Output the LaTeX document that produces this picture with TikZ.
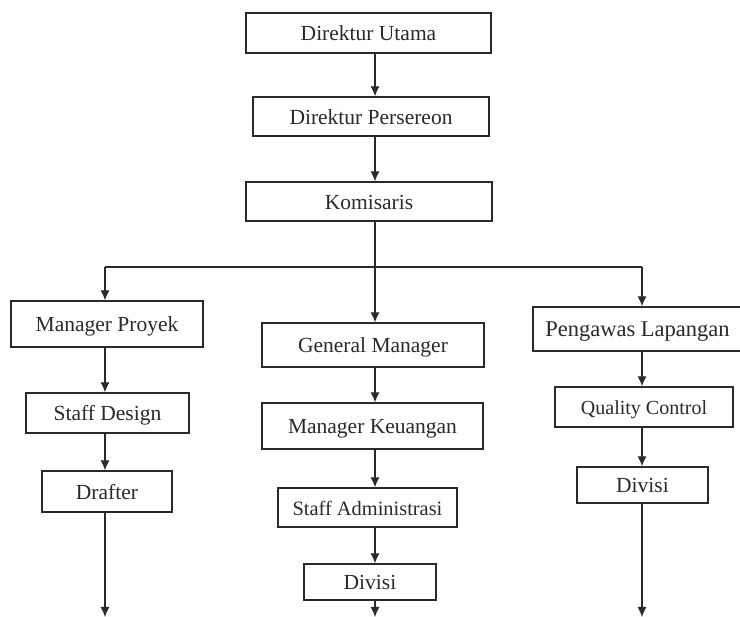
\documentclass[tikz,border=0pt]{standalone}
\usepackage{fontspec}
\setmainfont{Liberation Serif}
\usetikzlibrary{arrows.meta}
\definecolor{ink}{HTML}{2A2A2A}
\tikzset{
  box/.style={draw=ink, line width=1.3pt, fill=white, inner sep=0pt, text=ink,
    font=\fontsize{21.5}{24}\selectfont, text height=16pt, text depth=0pt, align=center},
  arr/.style={draw=ink, line width=1.1pt, -{Latex[length=10pt,width=9pt]}},
  ln/.style={draw=ink, line width=1.1pt}
}
\begin{document}
\begin{tikzpicture}[x=1pt,y=-1pt]
\useasboundingbox (0,0) rectangle (740,617);
% column lines
\coordinate (cL) at (105,0);
\coordinate (cM) at (375,0);
\coordinate (cR) at (642,0);
\coordinate (hy) at (0,267);
% top chain
\node[box, minimum width=245pt, minimum height=40pt] (du) at (368.5,33) {Direktur Utama};
\node[box, minimum width=236pt, minimum height=39pt] (dp) at (371,116.5) {Direktur Persereon};
\node[box, minimum width=246pt, minimum height=39pt] (ko) at (369,201.5) {Komisaris};
% left column
\node[box, minimum width=192pt, minimum height=46pt] (mp) at (107,324) {Manager Proyek};
\node[box, minimum width=163pt, minimum height=40pt] (sd) at (107.5,413) {Staff Design};
\node[box, minimum width=130pt, minimum height=41pt] (dr) at (107,491.5) {Drafter};
% middle column
\node[box, minimum width=222pt, minimum height=44pt] (gm) at (373,345) {General Manager};
\node[box, minimum width=221pt, minimum height=46pt] (mk) at (372.5,426) {Manager Keuangan};
\node[box, minimum width=179pt, minimum height=39pt, font=\fontsize{20.4}{24}\selectfont] (sa) at (367.5,507.5) {Staff Administrasi};
\node[box, minimum width=132pt, minimum height=36pt] (dv1) at (370,582) {Divisi};
% right column
\node[box, minimum width=209pt, minimum height=44pt, font=\fontsize{22.5}{24}\selectfont] (pl) at (637.5,329) {Pengawas Lapangan};
\node[box, minimum width=178pt, minimum height=40pt, font=\fontsize{20}{24}\selectfont] (qc) at (644,407) {Quality Control};
\node[box, minimum width=131pt, minimum height=36pt] (dv2) at (642.5,485) {Divisi};
% bottom free ends
\coordinate (eL) at (105,617);
\coordinate (eM) at (375,617);
\coordinate (eR) at (642,617);
% top connectors
\draw[arr] (du.south -| cM) -- (dp.north -| cM);
\draw[arr] (dp.south -| cM) -- (ko.north -| cM);
\draw[ln] (ko.south -| cM) -- (hy -| cM);
\draw[ln] (hy -| cL) -- (hy -| cR);
% branches
\draw[arr] (hy -| cL) -- (mp.north -| cL);
\draw[arr] (hy -| cM) -- (gm.north -| cM);
\draw[arr] (hy -| cR) -- (pl.north -| cR);
% left chain
\draw[arr] (mp.south -| cL) -- (sd.north -| cL);
\draw[arr] (sd.south -| cL) -- (dr.north -| cL);
\draw[arr] (dr.south -| cL) -- (eL);
% middle chain
\draw[arr] (gm.south -| cM) -- (mk.north -| cM);
\draw[arr] (mk.south -| cM) -- (sa.north -| cM);
\draw[arr] (sa.south -| cM) -- (dv1.north -| cM);
\draw[arr] (dv1.south -| cM) -- (eM);
% right chain
\draw[arr] (pl.south -| cR) -- (qc.north -| cR);
\draw[arr] (qc.south -| cR) -- (dv2.north -| cR);
\draw[arr] (dv2.south -| cR) -- (eR);
\end{tikzpicture}
\end{document}
